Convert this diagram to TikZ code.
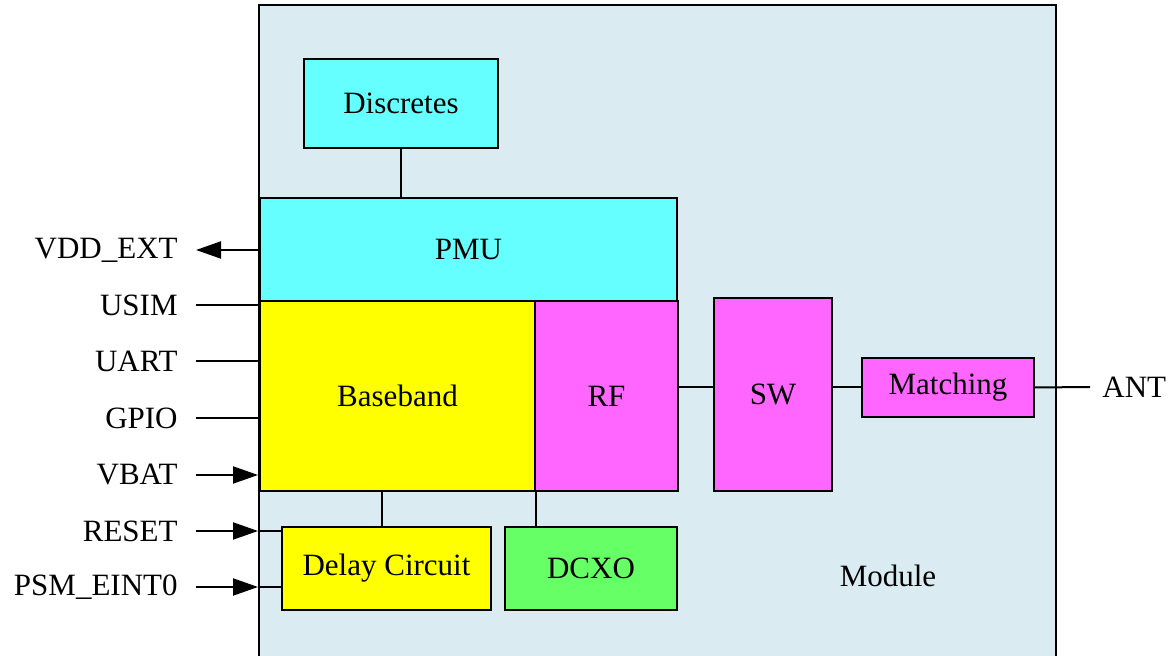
\documentclass[tikz,border=0pt]{standalone}
\usepackage{fontspec}
\setmainfont{Liberation Serif}
\usetikzlibrary{arrows.meta,calc}
\definecolor{modfill}{HTML}{DAECF2}
\definecolor{cyanbox}{HTML}{66FFFF}
\definecolor{yellowbox}{HTML}{FFFF00}
\definecolor{magbox}{HTML}{FF66FF}
\definecolor{greenbox}{HTML}{66FF66}
\tikzset{
  blk/.style={draw=black, line width=1pt, inner sep=0pt, font=\fontsize{15.5}{18}\selectfont},
  lbl/.style={inner sep=0pt, font=\fontsize{15.5}{18}\selectfont},
  wire/.style={line width=1pt},
  arr/.style={line width=1pt, -{Triangle[length=12.5pt,width=8.5pt]}},
}
\begin{document}
\begin{tikzpicture}[x=0.5pt,y=-0.5pt]
\clip (0,0) rectangle (1172,656);
\fill[white] (0,0) rectangle (1172,656);

% module outline
\node[blk, fill=modfill, minimum width=398.5pt, minimum height=347.5pt] (module) at (657.5,352.5) {};
\node[lbl] (modlabel) at (888,576) {Module};

% blocks
\node[blk, fill=cyanbox, minimum width=97pt, minimum height=44.5pt] (disc) at (401,103.5) {Discretes};
\node[blk, fill=cyanbox, minimum width=208.5pt, minimum height=51.5pt] (pmu) at (468.5,249.5) {PMU};
\node[blk, fill=yellowbox, minimum width=137.5pt, minimum height=95pt] (bb) at (397.5,396) {Baseband};
\node[blk, fill=magbox, minimum width=71.5pt, minimum height=95pt] (rf) at (606.5,396) {RF};
\node[blk, fill=magbox, minimum width=59pt, minimum height=96.5pt] (sw) at (773,394.5) {SW};
\node[blk, fill=magbox, minimum width=86pt, minimum height=29.5pt] (mat) at (948,387.5) {Matching};
\node[blk, fill=yellowbox, minimum width=104.5pt, minimum height=41.5pt] (delay) at (386.5,568.5) {Delay Circuit};
\node[blk, fill=greenbox, minimum width=86pt, minimum height=41.5pt] (dcxo) at (591,568.5) {DCXO};

% internal connections
\draw[wire] (disc.south) -- (disc.south |- pmu.north);
\draw[wire] (delay.north -| 382,0) -- (bb.south -| 382,0);
\draw[wire] (bb.south east) -- (bb.south east |- dcxo.north);
\draw[wire] (rf.east |- mat.west) -- (sw.west |- mat.west);
\draw[wire] (sw.east |- mat.west) -- (mat.west);

% antenna
\node[lbl, anchor=west] (ant) at (1102,387) {ANT};
\draw[wire] (mat.east) -- ($(ant.west)+(-12,0)$);

% external pins
\foreach \name/\txt/\yy in {vdd/VDD\_EXT/250, usim/USIM/305, uart/UART/361, gpio/GPIO/418, vbat/VBAT/475, reset/RESET/531, psm/PSM\_EINT0/587}{
  \node[lbl, anchor=east] (\name) at (178,\yy) {\txt};
  \coordinate (\name-end) at (196,\yy);
}
\draw[arr] (module.west |- vdd-end) -- (vdd-end);
\draw[wire] (usim-end) -- (module.west |- usim-end);
\draw[wire] (uart-end) -- (module.west |- uart-end);
\draw[wire] (gpio-end) -- (module.west |- gpio-end);
\draw[arr] (vbat-end) -- (module.west |- vbat-end);
\draw[arr] (reset-end) -- (module.west |- reset-end);
\draw[wire] (module.west |- reset-end) -- (delay.west |- reset-end);
\draw[arr] (psm-end) -- (module.west |- psm-end);
\draw[wire] (module.west |- psm-end) -- (delay.west |- psm-end);
\end{tikzpicture}
\end{document}
